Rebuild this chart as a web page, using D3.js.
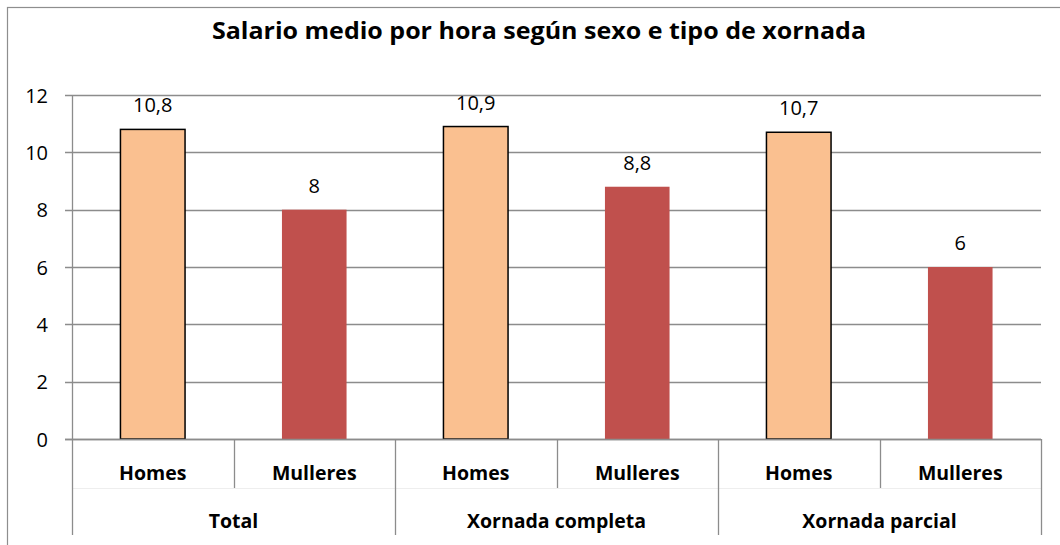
<!DOCTYPE html>
<html><head><meta charset="utf-8">
<script src="https://cdn.jsdelivr.net/npm/d3@7"></script>
<style>body{margin:0;background:#fff}svg{display:block}</style>
</head><body>
<svg id="c" width="1060" height="545"></svg>
<script>
const groups = ["Total", "Xornada completa", "Xornada parcial"];
const sexes = ["Homes", "Mulleres"];
const values = [10.8, 8, 10.9, 8.8, 10.7, 6];
const labels = ["10,8", "8", "10,9", "8,8", "10,7", "6"];
const yTicks = [0, 2, 4, 6, 8, 10, 12];
const title = "Salario medio por hora según sexo e tipo de xornada";

const svg = d3.select("#c");
const font = "'Open Sans', Lato, sans-serif";
const L = 72, R = 1041, T = 95, B = 439;
const grid = "#8c8c8c";

svg.append("rect").attr("x", 7.5).attr("y", 7.5).attr("width", 1060).attr("height", 545)
  .attr("fill", "none").attr("stroke", "#8e8e8e").attr("stroke-width", 1.2);

svg.append("text").attr("x", 539).attr("y", 39).attr("text-anchor", "middle")
  .attr("font-family", font).attr("font-weight", "bold").attr("font-size", 24).attr("fill", "#000")
  .attr("textLength", 654).attr("lengthAdjust", "spacingAndGlyphs")
  .text(title);

const cats = [];
groups.forEach(g => sexes.forEach(s => cats.push(g + "|" + s)));
const x = d3.scaleBand().domain(cats).range([L, R]).paddingInner(0).paddingOuter(0);
const y = d3.scaleLinear().domain([0, 12]).range([B, T]);

// gridlines
svg.append("g").selectAll("line").data(yTicks).join("line")
  .attr("x1", L - 7).attr("x2", R).attr("y1", d => Math.round(y(d)) + 0.5).attr("y2", d => Math.round(y(d)) + 0.5)
  .attr("stroke", grid).attr("stroke-width", 1.3);

// y axis line
svg.append("line").attr("x1", L + 0.5).attr("x2", L + 0.5).attr("y1", T).attr("y2", B)
  .attr("stroke", grid).attr("stroke-width", 1.3);

// y tick labels
svg.append("g").selectAll("text").data(yTicks).join("text")
  .attr("x", 48).attr("y", d => y(d) + 7.5).attr("text-anchor", "end")
  .attr("font-family", font).attr("font-size", 20).attr("fill", "#000").text(d => d);

// bars
const bw = x.bandwidth() * 0.4;
svg.append("g").selectAll("rect").data(values).join("rect")
  .attr("x", (d, i) => x(cats[i]) + (x.bandwidth() - bw) / 2)
  .attr("y", d => y(d))
  .attr("width", bw)
  .attr("height", d => B - y(d))
  .attr("fill", (d, i) => i % 2 === 0 ? "#FAC090" : "#C0504D")
  .attr("stroke", (d, i) => i % 2 === 0 ? "#000" : "none")
  .attr("stroke-width", 1.5);

// value labels
svg.append("g").selectAll("text").data(values).join("text")
  .attr("x", (d, i) => x(cats[i]) + x.bandwidth() / 2)
  .attr("y", d => y(d) - 17).attr("text-anchor", "middle")
  .attr("font-family", font).attr("font-size", 20).attr("fill", "#000")
  .text((d, i) => labels[i]);

// x axis line
svg.append("line").attr("x1", L - 7).attr("x2", R).attr("y1", B + 0.5).attr("y2", B + 0.5)
  .attr("stroke", grid).attr("stroke-width", 1.3);

// faint separator between label rows
svg.append("line").attr("x1", L).attr("x2", R).attr("y1", 488.5).attr("y2", 488.5)
  .attr("stroke", "#eeeeee").attr("stroke-width", 1);

// dividers
cats.forEach((c, i) => {
  const xx = Math.round(x(c)) + 0.5;
  const isGroup = i % 2 === 0;
  svg.append("line").attr("x1", xx).attr("x2", xx).attr("y1", B).attr("y2", isGroup ? 535 : 488)
    .attr("stroke", grid).attr("stroke-width", 1.3);
});
svg.append("line").attr("x1", R + 0.5).attr("x2", R + 0.5).attr("y1", B).attr("y2", 535)
  .attr("stroke", grid).attr("stroke-width", 1.3);

// sex labels
svg.append("g").selectAll("text").data(cats).join("text")
  .attr("x", c => x(c) + x.bandwidth() / 2).attr("y", 480)
  .attr("text-anchor", "middle").attr("font-family", font).attr("font-weight", "bold")
  .attr("font-size", 19.5).attr("fill", "#000").text(c => c.split("|")[1]);

// group labels
svg.append("g").selectAll("text").data(groups).join("text")
  .attr("x", g => x(g + "|Homes") + x.bandwidth())
  .attr("y", 528)
  .attr("text-anchor", "middle").attr("font-family", font).attr("font-weight", "bold")
  .attr("font-size", 19.5).attr("fill", "#000").text(g => g);
</script>
</body></html>
